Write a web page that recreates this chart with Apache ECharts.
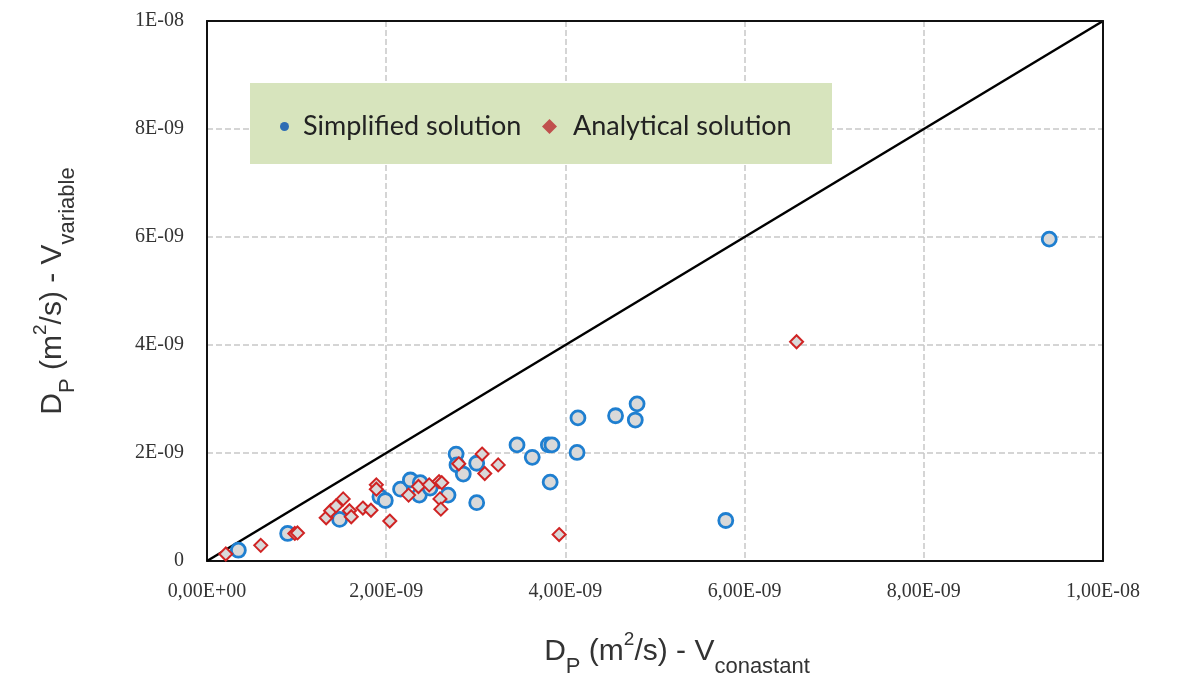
<!DOCTYPE html>
<html><head><meta charset="utf-8">
<script src="https://cdn.jsdelivr.net/npm/echarts@6/dist/echarts.min.js"></script>
<style>html,body{margin:0;padding:0;background:#fff;overflow:hidden}#c{width:1191px;height:682px}</style>
</head><body><div id="c"></div>
<script>
// values in units of 1E-09 m2/s
const UNIT = 1e-9;
const simplifiedX = [0.35,0.90,1.48,1.93,1.99,2.16,2.27,2.38,2.37,2.49,2.69,2.78,2.79,2.86,3.01,3.01,3.46,3.63,3.81,3.85,3.83,4.13,4.14,4.56,4.80,4.78,5.79,9.40];
const simplifiedY = [0.20,0.51,0.77,1.19,1.12,1.33,1.50,1.45,1.22,1.35,1.22,1.98,1.78,1.61,1.81,1.08,2.15,1.92,2.15,2.15,1.46,2.01,2.65,2.69,2.91,2.61,0.75,5.96];
const analyticalX = [0.21,0.60,0.98,1.01,1.33,1.38,1.44,1.52,1.59,1.61,1.74,1.83,1.89,1.89,2.04,2.25,2.36,2.48,2.59,2.62,2.60,2.61,2.81,3.07,3.10,3.25,3.93,6.58];
const analyticalY = [0.13,0.29,0.51,0.52,0.80,0.93,1.02,1.15,0.93,0.82,0.98,0.94,1.41,1.33,0.74,1.22,1.38,1.41,1.47,1.45,1.15,0.96,1.80,1.98,1.62,1.78,0.49,4.06];
const identityLine = [[0,0],[10,10]];
const xTickLabels = ['0,00E+00','2,00E-09','4,00E-09','6,00E-09','8,00E-09','1,00E-08'];
const yTickLabels = ['0','2E-09','4E-09','6E-09','8E-09','1E-08'];
const seriesNames = ['Simplified solution','Analytical solution'];

const pairs = (xs, ys) => xs.map((x, i) => [x, ys[i]]);
const tick = (arr) => (v) => { const i = Math.round(v / 2); return arr[i] !== undefined ? arr[i] : ''; };

const chart = echarts.init(document.getElementById('c'), null, {renderer: 'canvas'});
const serif = '"Liberation Serif","Times New Roman",serif';
const sans = '"Liberation Sans",Arial,sans-serif';
const legendFont = 'Lato, "Open Sans", sans-serif';
const nameRich = {
  m: {fontSize: 30, fontFamily: sans, color: '#333', lineHeight: 38},
  sub: {fontSize: 22, fontFamily: sans, color: '#333', verticalAlign: 'bottom', lineHeight: 38, padding: [0,0,-7,0]},
  sup: {fontSize: 19, fontFamily: sans, color: '#333', verticalAlign: 'top', lineHeight: 38, padding: [-3,0,0,0]}
};
const frameAxis = {
  type: 'value', min: 0, max: 10, interval: 2,
  axisLine: {show: true, onZero: false, lineStyle: {color: '#111', width: 2}},
  axisTick: {show: false}, axisLabel: {show: false}, splitLine: {show: false}, z: 10
};
chart.setOption({
  animation: false,
  backgroundColor: '#fff',
  grid: {left: 207, right: 88, top: 21, bottom: 121, containLabel: false, outerBoundsMode: 'none'},
  graphic: [{type: 'rect', left: 250, top: 83, shape: {width: 582, height: 81}, style: {fill: '#d7e4bd'}, z: 5}],
  legend: [
    {data: [{name: seriesNames[0], itemStyle: {color: '#2e6db4', borderWidth: 0}}], left: 275, top: 108, itemWidth: 9, itemHeight: 9, icon: 'circle', z: 10,
     textStyle: {fontSize: 27, fontFamily: legendFont, color: '#222', padding: [0,0,0,9]}},
    {data: [{name: seriesNames[1], itemStyle: {color: '#c0504d', borderWidth: 0}}], left: 537, top: 108, itemWidth: 15, itemHeight: 15, icon: 'diamond', z: 10,
     textStyle: {fontSize: 27, fontFamily: legendFont, color: '#222', padding: [0,0,0,11]}}
  ],
  xAxis: [{
    type: 'value', min: 0, max: 10, interval: 2,
    axisLine: {show: true, onZero: false, lineStyle: {color: '#111', width: 2}},
    axisTick: {show: false},
    splitLine: {show: true, lineStyle: {color: '#c8c8c8', type: [6,3], width: 1.5}},
    axisLabel: {formatter: tick(xTickLabels), fontFamily: serif, fontSize: 20, color: '#333', margin: 21},
    name: '{m|D}{sub|P}{m| (m}{sup|2}{m|/s) - V}{sub|conastant}',
    nameLocation: 'middle', nameGap: 72,
    nameTextStyle: {rich: nameRich, padding: [0,0,0,44]}
  }, Object.assign({position: 'top'}, frameAxis)],
  yAxis: [{
    type: 'value', min: 0, max: 10, interval: 2,
    axisLine: {show: true, onZero: false, lineStyle: {color: '#111', width: 2}},
    axisTick: {show: false},
    splitLine: {show: true, lineStyle: {color: '#c8c8c8', type: [6,3], width: 1.5}},
    axisLabel: {formatter: tick(yTickLabels), fontFamily: serif, fontSize: 20, color: '#333', margin: 23},
    name: '{m|D}{sub|P}{m| (m}{sup|2}{m|/s) - V}{sub|variable}',
    nameLocation: 'middle', nameGap: 135, nameRotate: 90,
    nameTextStyle: {rich: nameRich}
  }, Object.assign({position: 'right'}, frameAxis)],
  series: [
    {type: 'line', data: identityLine, symbol: 'none', silent: true, z: 1,
     lineStyle: {color: '#000', width: 2.5}},
    {name: seriesNames[0], type: 'scatter', data: pairs(simplifiedX, simplifiedY), symbol: 'circle', symbolSize: 14, z: 3,
     itemStyle: {color: '#d9d9d9', borderColor: '#1f7fd0', borderWidth: 2.8, opacity: 1}},
    {name: seriesNames[1], type: 'scatter', data: pairs(analyticalX, analyticalY), symbol: 'diamond', symbolSize: 13, z: 4,
     itemStyle: {color: '#d9d9d9', borderColor: '#d02424', borderWidth: 2, opacity: 1}}
  ]
});
</script></body></html>
